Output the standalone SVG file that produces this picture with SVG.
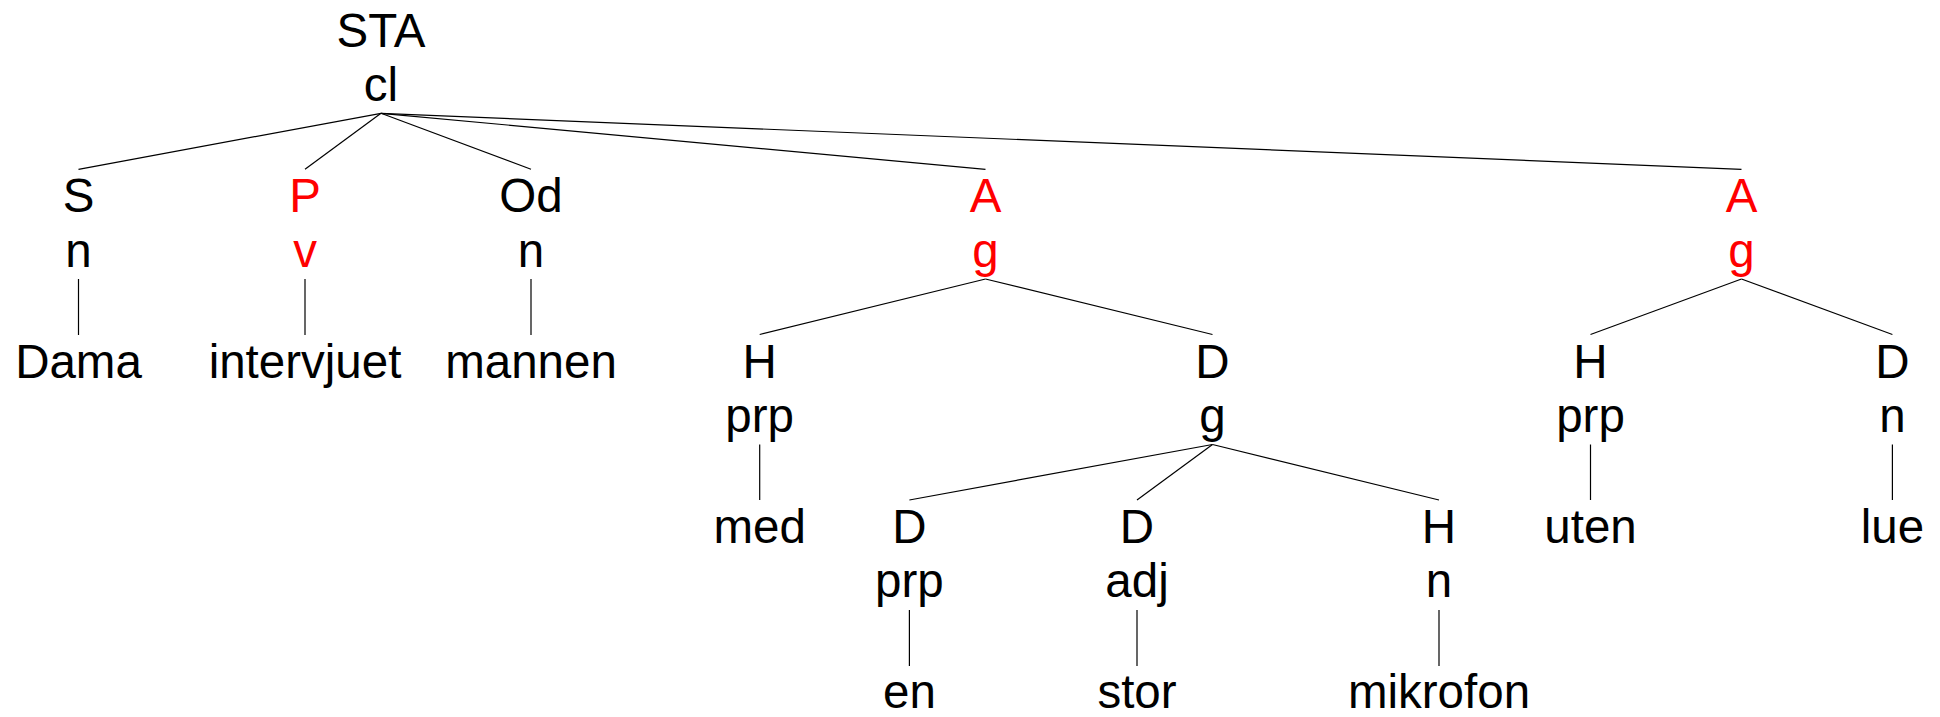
<svg xmlns="http://www.w3.org/2000/svg" width="1940" height="717" viewBox="0 0 1940 717">
<style>
text{font-family:"Liberation Sans",Arial,sans-serif;font-size:47.5px;text-anchor:middle;fill:#000}
.r{fill:#ff0000}
line{stroke:#000;stroke-width:1.2}
</style>
<rect width="1940" height="717" fill="#fff"/>
<g id="connectors">
<line x1="381" y1="113.3" x2="78.5" y2="169.3"/>
<line x1="381" y1="113.3" x2="305" y2="169.3"/>
<line x1="381" y1="113.3" x2="531" y2="169.3"/>
<line x1="381" y1="113.3" x2="985.5" y2="169.3"/>
<line x1="381" y1="113.3" x2="1741.5" y2="169.3"/>
<line x1="78.5" y1="279" x2="78.5" y2="335"/>
<line x1="305" y1="279" x2="305" y2="335"/>
<line x1="531" y1="279" x2="531" y2="335"/>
<line x1="985.5" y1="279" x2="759.7" y2="334.5"/>
<line x1="985.5" y1="279" x2="1212.5" y2="334.5"/>
<line x1="1741.5" y1="279" x2="1590.5" y2="334.5"/>
<line x1="1741.5" y1="279" x2="1892.4" y2="334.5"/>
<line x1="759.7" y1="444.5" x2="759.7" y2="500"/>
<line x1="1590.5" y1="444.5" x2="1590.5" y2="500"/>
<line x1="1892.4" y1="444.5" x2="1892.4" y2="500"/>
<line x1="1212.5" y1="444.5" x2="909.4" y2="500"/>
<line x1="1212.5" y1="444.5" x2="1137" y2="500"/>
<line x1="1212.5" y1="444.5" x2="1439" y2="500"/>
<line x1="909.4" y1="610" x2="909.4" y2="666"/>
<line x1="1137" y1="610" x2="1137" y2="666"/>
<line x1="1439" y1="610" x2="1439" y2="666"/>
</g>
<g id="n-root"><text x="381" y="46.7">STA</text><text x="381" y="101.2">cl</text></g>
<g id="n-S"><text x="78.5" y="212.1">S</text><text x="78.5" y="266.6">n</text></g>
<g id="n-P"><text class="r" x="305" y="212.1">P</text><text class="r" x="305" y="266.6">v</text></g>
<g id="n-Od"><text x="531" y="212.1">Od</text><text x="531" y="266.6">n</text></g>
<g id="n-A1"><text class="r" x="985.5" y="212.1">A</text><text class="r" x="985.5" y="266.6">g</text></g>
<g id="n-A2"><text class="r" x="1741.5" y="212.1">A</text><text class="r" x="1741.5" y="266.6">g</text></g>
<g id="w-Dama"><text x="78.5" y="377.5">Dama</text></g>
<g id="w-intervjuet"><text x="305" y="377.5">intervjuet</text></g>
<g id="w-mannen"><text x="531" y="377.5">mannen</text></g>
<g id="n-H1"><text x="759.7" y="377.5">H</text><text x="759.7" y="432">prp</text></g>
<g id="n-D1"><text x="1212.5" y="377.5">D</text><text x="1212.5" y="432">g</text></g>
<g id="n-H2"><text x="1590.5" y="377.5">H</text><text x="1590.5" y="432">prp</text></g>
<g id="n-D2"><text x="1892.4" y="377.5">D</text><text x="1892.4" y="432">n</text></g>
<g id="w-med"><text x="759.7" y="542.9">med</text></g>
<g id="w-uten"><text x="1590.5" y="542.9">uten</text></g>
<g id="w-lue"><text x="1892.4" y="542.9">lue</text></g>
<g id="n-D3"><text x="909.4" y="542.9">D</text><text x="909.4" y="597.4">prp</text></g>
<g id="n-D4"><text x="1137" y="542.9">D</text><text x="1137" y="597.4">adj</text></g>
<g id="n-H3"><text x="1439" y="542.9">H</text><text x="1439" y="597.4">n</text></g>
<g id="w-en"><text x="909.4" y="708.3">en</text></g>
<g id="w-stor"><text x="1137" y="708.3">stor</text></g>
<g id="w-mikrofon"><text x="1439" y="708.3">mikrofon</text></g>
</svg>
